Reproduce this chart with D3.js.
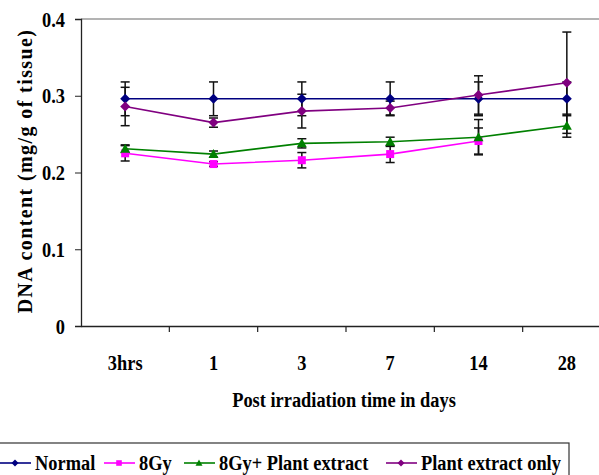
<!DOCTYPE html>
<html>
<head>
<meta charset="utf-8">
<script src="https://cdn.jsdelivr.net/npm/d3@7"></script>
<style>
  body { margin: 0; background: #fff; }
  svg { display: block; }
  text { font-family: "Liberation Serif", "Times New Roman", serif; font-weight: bold; fill: #000; }
</style>
</head>
<body>
<div id="chart"></div>
<script>
// data
var categories = ["3hrs", "1", "3", "7", "14", "28"];
var yTicks = [0, 0.1, 0.2, 0.3, 0.4];

var normalVals = [0.296, 0.296, 0.296, 0.296, 0.296, 0.296];
var normalErr  = [0.022, 0.022, 0.022, 0.022, 0.022, 0.022];
var gyVals     = [0.225, 0.211, 0.216, 0.224, 0.241, null];
var gyErr      = [0.010, 0.003, 0.010, 0.011, 0.017, null];
var gyPlantVals = [0.231, 0.224, 0.238, 0.240, 0.246, 0.261];
var gyPlantErr  = [0.005, 0.004, 0.006, 0.006, 0.023, 0.015];
var plantVals  = [0.286, 0.265, 0.280, 0.284, 0.301, 0.317];
var plantErr   = [0.025, 0.006, 0.022, 0.009, 0.025, 0.066];

var seriesNames = ["Normal", "8Gy", "8Gy+ Plant extract", "Plant extract only"];

var W = 599, H = 475;
var margin = { top: 19, left: 81 };
var plotRight = 611, plotBottom = 326;
var squeeze = 0.92; // the text in the picture is a bit narrow

var series = [
  { name: seriesNames[0], vals: normalVals, err: normalErr, color: "#000080", shape: "diamond" },
  { name: seriesNames[1], vals: gyVals, err: gyErr, color: "#ff00ff", shape: "square" },
  { name: seriesNames[2], vals: gyPlantVals, err: gyPlantErr, color: "#008000", shape: "triangle" },
  { name: seriesNames[3], vals: plantVals, err: plantErr, color: "#800080", shape: "diamond" }
];

function markerPath(shape, r) {
  if (shape === "diamond") return "M0," + (-r) + "L" + r + ",0L0," + r + "L" + (-r) + ",0Z";
  if (shape === "square") return "M" + (-r * 0.8) + "," + (-r * 0.8) + "h" + (1.6 * r) + "v" + (1.6 * r) + "h" + (-1.6 * r) + "Z";
  return "M0," + (-r) + "L" + r + "," + (r * 0.8) + "L" + (-r) + "," + (r * 0.8) + "Z";
}

var svg = d3.select("#chart").append("svg")
  .attr("width", W)
  .attr("height", H);

var x = d3.scaleBand().domain(categories).range([margin.left, plotRight]);
var y = d3.scaleLinear().domain([0, 0.4]).range([plotBottom, margin.top]);

// top frame line (grey)
svg.append("line")
  .attr("x1", margin.left).attr("x2", plotRight)
  .attr("y1", y(0.4)).attr("y2", y(0.4))
  .style("stroke", "#9a9a9a").style("stroke-width", 1.5);

// y axis
var yAxis = svg.append("g")
  .attr("transform", "translate(" + margin.left + ",0)")
  .call(d3.axisLeft(y).tickValues(yTicks).tickSize(6)
    .tickFormat(function(d) { return d === 0 ? "0" : d3.format(".1f")(d); }));
yAxis.select(".domain").style("stroke", "#222").style("stroke-width", 1.3);
yAxis.selectAll(".tick line").style("stroke", "#222");
yAxis.selectAll("text")
  .style("font-size", "20px")
  .attr("x", -16 / squeeze)
  .attr("dy", "0.35em")
  .attr("transform", "scale(" + squeeze + ",1)");

// x axis, labels in the band centres, ticks on the band edges
var xAxis = svg.append("g")
  .attr("transform", "translate(0," + plotBottom + ")")
  .call(d3.axisBottom(x).tickSize(0));
xAxis.select(".domain").style("stroke", "#222").style("stroke-width", 1.3);
xAxis.selectAll("text")
  .style("font-size", "20px")
  .attr("x", 0)
  .attr("y", 44)
  .attr("dy", 0)
  .attr("transform", "scale(" + squeeze + ",1)");

var edges = categories.map(function(c) { return x(c); });
svg.append("g").selectAll("line")
  .data(edges.slice(1))
  .enter().append("line")
  .attr("x1", function(d) { return d; })
  .attr("x2", function(d) { return d; })
  .attr("y1", plotBottom)
  .attr("y2", plotBottom + 6)
  .style("stroke", "#222").style("stroke-width", 1.2);

// axis titles
svg.append("text")
  .attr("transform", "translate(344,407) scale(" + squeeze + ",1)")
  .style("text-anchor", "middle")
  .style("font-size", "20px")
  .text("Post irradiation time in days");

svg.append("text")
  .attr("transform", "translate(32,171) rotate(-90)")
  .style("text-anchor", "middle")
  .style("font-size", "20px")
  .style("letter-spacing", "1.4px")
  .text("DNA content (mg/g of tissue)");

var cx = function(i) { return x(categories[i]) + x.bandwidth() / 2; };

// error bars
var capW = 4.5;
series.forEach(function(s) {
  var g = svg.append("g").attr("class", "errbars");
  s.vals.forEach(function(v, i) {
    if (v === null) return;
    var hi = y(v + s.err[i]), lo = y(v - s.err[i]), px = cx(i);
    g.append("line").attr("x1", px).attr("x2", px).attr("y1", hi).attr("y2", lo);
    g.append("line").attr("x1", px - capW).attr("x2", px + capW).attr("y1", hi).attr("y2", hi);
    g.append("line").attr("x1", px - capW).attr("x2", px + capW).attr("y1", lo).attr("y2", lo);
  });
  g.selectAll("line").style("stroke", "#111").style("stroke-width", 1.5);
});

// lines and markers
var line = d3.line()
  .defined(function(d) { return d !== null; })
  .x(function(d, i) { return cx(i); })
  .y(function(d) { return y(d); });

series.forEach(function(s) {
  svg.append("path")
    .datum(s.vals)
    .attr("d", line)
    .style("fill", "none")
    .style("stroke", s.color)
    .style("stroke-width", 1.6);
  svg.append("g").selectAll("path")
    .data(s.vals.map(function(v, i) { return { v: v, i: i }; }).filter(function(d) { return d.v !== null; }))
    .enter().append("path")
    .attr("transform", function(d) { return "translate(" + cx(d.i) + "," + y(d.v) + ")"; })
    .attr("d", markerPath(s.shape, 5))
    .style("fill", s.color);
});

// legend
var legendX = [0, 104, 184, 386];
var legend = svg.append("g");
legend.append("rect")
  .attr("x", -5).attr("y", 443)
  .attr("width", 574).attr("height", 45)
  .style("fill", "#fff").style("stroke", "#333").style("stroke-width", 1.2);

series.forEach(function(s, k) {
  var lx = legendX[k], ly = 463;
  legend.append("line")
    .attr("x1", lx).attr("x2", lx + 31)
    .attr("y1", ly).attr("y2", ly)
    .style("stroke", s.color).style("stroke-width", 1.6);
  legend.append("path")
    .attr("transform", "translate(" + (lx + 15) + "," + ly + ")")
    .attr("d", markerPath(s.shape, 3.5))
    .style("fill", s.color);
  legend.append("text")
    .attr("transform", "translate(" + (lx + 35) + ",470) scale(" + squeeze + ",1)")
    .style("font-size", "20px")
    .text(s.name);
});
</script>
</body>
</html>
